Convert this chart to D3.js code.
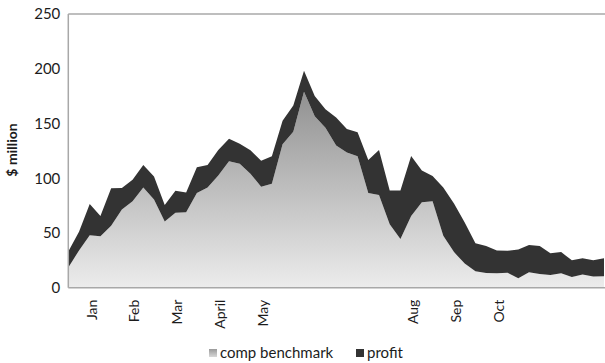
<!DOCTYPE html>
<html>
<head>
<meta charset="utf-8">
<script src="https://cdn.jsdelivr.net/npm/d3@7"></script>
<style>
  html, body { margin: 0; padding: 0; background: #fff; }
  svg { display: block; }
  text { font-family: Lato, "Open Sans", sans-serif; fill: #1c1c1c; }
</style>
</head>
<body>
<svg id="chart" width="605" height="363"></svg>
<script>
// Weekly figures, $ million
const benchmark = [18.5, 34, 48, 47, 56.5, 71.5, 79, 91.5, 80.5, 60.5,
  68.5, 69, 86.5, 91.5, 102.5, 115.5, 113.3, 104, 92.3, 95,
  131, 142.5, 179, 156.5, 146, 130, 123.5, 120, 86.5, 84.7,
  58, 44.5, 65.5, 78, 79, 47.5, 32.5, 22, 15, 13.5,
  13.2, 13.7, 8.6, 14, 12.5, 11.6, 13.2, 9.8, 12, 10.3, 10.5];
const total = [33, 51, 76.5, 65.5, 90.8, 91, 98.5, 112, 101.5, 75.5,
  88.5, 87, 110, 112, 125.8, 136, 131.5, 125.5, 116, 120,
  152.5, 166.5, 198.2, 175, 163, 155.5, 145, 142, 116.6, 125.8,
  88.8, 88.8, 120.3, 107, 102, 91.5, 77, 59.5, 40.6, 38,
  34, 33.8, 35, 39, 38, 31.4, 32.5, 25, 26.9, 25, 26.9];
const profit = total.map((t, i) => +(t - benchmark[i]).toFixed(1));

// Category labels: only some weeks carry a month name
const monthLabels = ["", "", "Jan", "", "", "", "Feb", "", "", "", "Mar", "", "", "", "April", "", "", "", "May", "",
  "", "", "", "", "", "", "", "", "", "", "", "", "Aug", "", "", "", "Sep", "", "", "",
  "Oct", "", "", "", "", "", "", "", "", "", ""];
const yTicks = [0, 50, 100, 150, 200, 250];
const seriesNames = ["comp benchmark", "profit"];

const svg = d3.select("#chart");
const plotL = 68.3, plotR = 604, plotT = 14, plotB = 287.7;

const rows = benchmark.map((b, i) => ({ i, benchmark: b, profit: profit[i] }));
const stacked = d3.stack().keys(["benchmark", "profit"])(rows);

const x = d3.scaleLinear().domain([0, benchmark.length - 1]).range([plotL, plotR]);
const y = d3.scaleLinear().domain([0, 250]).range([plotB, plotT]);

// Gradient for the benchmark area
const defs = svg.append("defs");
const grad = defs.append("linearGradient")
  .attr("id", "benchGrad")
  .attr("gradientUnits", "userSpaceOnUse")
  .attr("x1", 0).attr("x2", 0)
  .attr("y1", y(185)).attr("y2", y(0));
grad.append("stop").attr("offset", "0%").attr("stop-color", "#8e8e8e");
grad.append("stop").attr("offset", "100%").attr("stop-color", "#ececec");

const legGrad = defs.append("linearGradient")
  .attr("id", "legGrad").attr("x1", 0).attr("x2", 0).attr("y1", 0).attr("y2", 1);
legGrad.append("stop").attr("offset", "0%").attr("stop-color", "#9a9a9a");
legGrad.append("stop").attr("offset", "100%").attr("stop-color", "#d8d8d8");

const fills = ["url(#benchGrad)", "#333333"];

const area = d3.area()
  .x(d => x(d.data.i))
  .y0(d => y(d[0]))
  .y1(d => y(d[1]));

svg.append("g").selectAll("path")
  .data(stacked)
  .join("path")
  .attr("d", area)
  .attr("fill", (d, k) => fills[k]);

// Frame lines: top border, left axis, baseline
svg.append("line").attr("x1", plotL).attr("x2", 605).attr("y1", plotT).attr("y2", plotT)
  .attr("stroke", "#a8a8a8").attr("stroke-width", 1.5);
svg.append("line").attr("x1", plotL).attr("x2", plotL).attr("y1", plotT).attr("y2", plotB)
  .attr("stroke", "#a8a8a8").attr("stroke-width", 1.5);
svg.append("line").attr("x1", plotL).attr("x2", 605).attr("y1", plotB).attr("y2", plotB)
  .attr("stroke", "#a8a8a8").attr("stroke-width", 1.5);

// Y axis labels
const yAxis = d3.axisLeft(y).tickValues(yTicks).tickSize(0).tickPadding(8);
const yg = svg.append("g").attr("transform", `translate(${plotL},0)`).call(yAxis);
yg.select(".domain").remove();
yg.selectAll("text").style("font-size", "15px").style("font-family", "Lato, sans-serif").attr("fill", "#1c1c1c");

svg.append("text")
  .attr("transform", `translate(17,150) rotate(-90)`)
  .attr("text-anchor", "middle")
  .style("font-size", "14px").style("font-weight", "bold")
  .text("$ million");

// X axis month labels, rotated
const xAxis = d3.axisBottom(x)
  .tickValues(monthLabels.map((m, i) => i).filter(i => monthLabels[i] !== ""))
  .tickFormat(i => monthLabels[i])
  .tickSize(0);
const xg = svg.append("g").attr("transform", `translate(1.5,${plotB})`).call(xAxis);
xg.select(".domain").remove();
xg.selectAll("text")
  .style("font-size", "14px").style("font-family", "Lato, sans-serif").attr("fill", "#1c1c1c")
  .attr("text-anchor", "end")
  .attr("transform", "rotate(-90)")
  .attr("x", -12).attr("y", 0).attr("dy", "0.35em");

// Legend
const legend = svg.append("g");
const legItems = [
  { name: seriesNames[0], fill: "url(#legGrad)", sx: 209, tx: 220 },
  { name: seriesNames[1], fill: "#333333", sx: 356, tx: 367 }
];
legItems.forEach(it => {
  legend.append("rect").attr("x", it.sx).attr("y", 349).attr("width", 8).attr("height", 8).attr("fill", it.fill);
  legend.append("text").attr("x", it.tx).attr("y", 357.5)
    .style("font-size", "15px").text(it.name);
});
</script>
</body>
</html>
